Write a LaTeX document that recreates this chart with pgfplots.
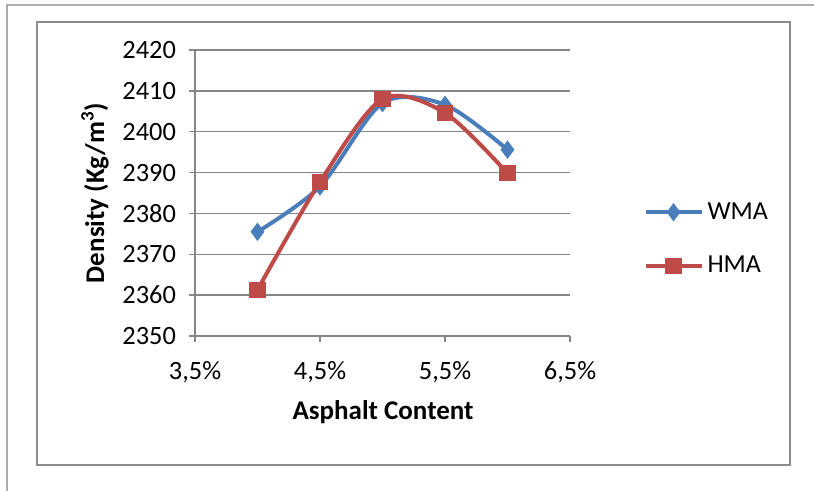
\documentclass[border=0pt]{standalone}
\usepackage{pgfplots}
\pgfplotsset{compat=1.18}
\usepackage{fontspec}
\setmainfont{Carlito}

\definecolor{wmablue}{HTML}{4A7EBB}
\definecolor{hmared}{HTML}{BE4B48}
\definecolor{gridgray}{HTML}{868686}
\definecolor{framegray}{HTML}{8C8C8C}

\pgfplotstableread{
x     wma     hma
4.0   2375.5  2361.3
4.5   2386.6  2387.7
5.0   2407.0  2408.0
5.5   2406.6  2404.6
6.0   2395.6  2389.8
}\densitydata

\begin{document}
\begin{tikzpicture}
% page area and chart frames
\useasboundingbox (0pt,0pt) rectangle (407pt,245.5pt);
\draw[framegray!70, line width=0.6pt] (3.5pt,0pt) -- (3.5pt,243pt) -- (407pt,243pt);
\draw[framegray, line width=0.6pt] (18.5pt,13pt) rectangle (395pt,234.5pt);

\begin{axis}[
  at={(97.5pt,77.5pt)}, anchor=south west,
  scale only axis, width=187.5pt, height=143pt,
  xmin=3.5, xmax=6.5, ymin=2350, ymax=2420,
  xtick={3.5,4.5,5.5,6.5},
  xticklabels={{3,5\%},{4,5\%},{5,5\%},{6,5\%}},
  ytick={2350,2360,...,2420},
  axis lines*=left,
  axis line style={gridgray, line width=0.75pt},
  tick align=outside, major tick length=3pt,
  tick style={gridgray, line width=0.75pt},
  ymajorgrids, major grid style={gridgray, line width=0.75pt},
  /pgf/number format/assume math mode=true,
  /pgf/number format/set thousands separator={},
  tick label style={font=\fontsize{13.2}{15}\selectfont},
  yticklabel style={xshift=-3pt},
  xticklabel style={yshift=-6pt},
  legend style={at={(rel axis cs:1.195,0.339)}, anchor=west, draw=none, fill=none,
    font=\fontsize{13}{15}\selectfont, row sep=13pt, inner sep=0pt,
    /tikz/every even column/.append style={column sep=2pt}},
  legend cell align=left,
  legend image code/.code={
    \draw[mark repeat=2, mark phase=2] plot coordinates {(0pt,0pt) (14pt,0pt) (28pt,0pt)};},
  clip=false,
]
\addplot[wmablue, line width=2pt, smooth, tension=0.5,
  mark=diamond*, mark size=4.2pt, mark options={solid, fill=wmablue, line width=0.5pt}]
  table[x=x, y=wma] {\densitydata};
\addlegendentry{WMA}
\addplot[hmared, line width=2pt, smooth, tension=0.5,
  mark=square*, mark size=3.8pt, mark options={solid, fill=hmared, line width=0.5pt}]
  table[x=x, y=hma] {\densitydata};
\addlegendentry{HMA}
\end{axis}

% axis titles
\node[rotate=90, font=\bfseries\fontsize{13.5}{15}\selectfont] at (47.5pt,149pt) {Density (Kg/m\textsuperscript{3})};
\node[font=\bfseries\fontsize{13.5}{15}\selectfont] at (191.5pt,39.5pt) {Asphalt Content};
\end{tikzpicture}
\end{document}
